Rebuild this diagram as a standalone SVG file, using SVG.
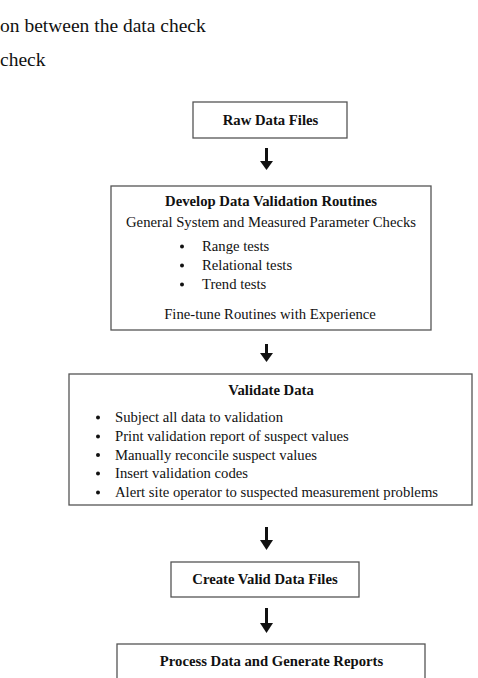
<svg xmlns="http://www.w3.org/2000/svg" width="478" height="678" viewBox="0 0 478 678">
<style>
.box{fill:#fff;stroke:#555;stroke-width:1.3}
.t{font-family:"Liberation Serif","Times New Roman",serif;font-size:14.7px;fill:#111}
.b{font-weight:bold}
.m{text-anchor:middle}
.top{font-family:"Liberation Serif","Times New Roman",serif;font-size:19.5px;fill:#111}
.dot{fill:#111}
.ar{stroke:#111;stroke-width:3;fill:none}
.ah{fill:#111}
</style>
<rect width="478" height="678" fill="#fff"/>
<text class="top" x="0" y="32">on between the data check</text>
<text class="top" x="0" y="66">check</text>

<g id="connectors">
<line class="ar" x1="266.5" y1="148" x2="266.5" y2="162"/>
<polygon class="ah" points="260,161 273,161 266.5,170"/>
<line class="ar" x1="266.5" y1="344" x2="266.5" y2="354"/>
<polygon class="ah" points="260,353 273,353 266.5,362"/>
<line class="ar" x1="266.5" y1="527" x2="266.5" y2="541"/>
<polygon class="ah" points="260,540 273,540 266.5,550"/>
<line class="ar" x1="266.5" y1="608" x2="266.5" y2="624"/>
<polygon class="ah" points="260,623 273,623 266.5,633"/>
</g>

<g id="raw">
<rect class="box" x="193" y="102" width="154" height="36"/>
<text class="t b m" x="270.5" y="125">Raw Data Files</text>
</g>

<g id="develop">
<rect class="box" x="111" y="186" width="320" height="144"/>
<text class="t b m" x="271" y="206">Develop Data Validation Routines</text>
<text class="t m" x="271" y="227">General System and Measured Parameter Checks</text>
<circle class="dot" cx="182" cy="246.5" r="2"/>
<text class="t" x="202" y="251">Range tests</text>
<circle class="dot" cx="182" cy="265.5" r="2"/>
<text class="t" x="202" y="270">Relational tests</text>
<circle class="dot" cx="182" cy="284.5" r="2"/>
<text class="t" x="202" y="289">Trend tests</text>
<text class="t m" x="270" y="319">Fine-tune Routines with Experience</text>
</g>

<g id="validate">
<rect class="box" x="69" y="374" width="403" height="131"/>
<text class="t b m" x="271" y="395">Validate Data</text>
<circle class="dot" cx="98" cy="417.5" r="2"/>
<text class="t" x="115" y="422">Subject all data to validation</text>
<circle class="dot" cx="98" cy="436.5" r="2"/>
<text class="t" x="115" y="441">Print validation report of suspect values</text>
<circle class="dot" cx="98" cy="455" r="2"/>
<text class="t" x="115" y="459.5">Manually reconcile suspect values</text>
<circle class="dot" cx="98" cy="473.5" r="2"/>
<text class="t" x="115" y="478">Insert validation codes</text>
<circle class="dot" cx="98" cy="492.5" r="2"/>
<text class="t" x="115" y="497">Alert site operator to suspected measurement problems</text>
</g>

<g id="create">
<rect class="box" x="171" y="562" width="188" height="35"/>
<text class="t b m" x="265" y="584">Create Valid Data Files</text>
</g>

<g id="process">
<rect class="box" x="117" y="644" width="308" height="50"/>
<text class="t b m" x="271.5" y="666">Process Data and Generate Reports</text>
</g>
</svg>
